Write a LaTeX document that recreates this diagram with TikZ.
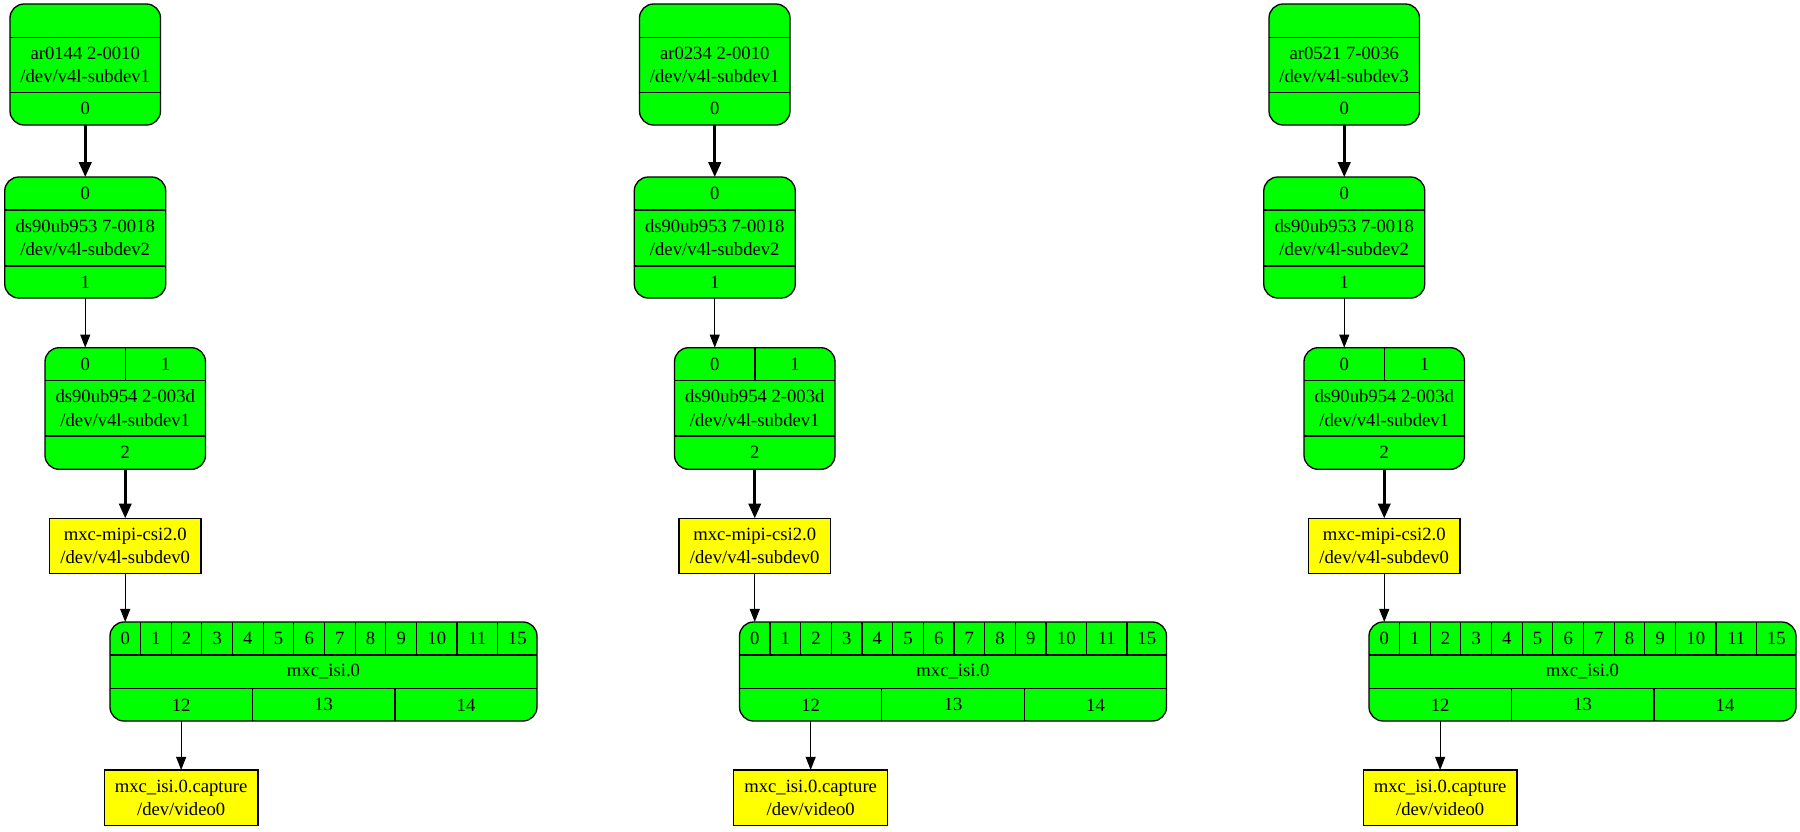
\documentclass[tikz,border=0pt]{standalone}
\usepackage{fontspec}
\setmainfont{Liberation Serif}
\usetikzlibrary{arrows.meta}
\definecolor{gvgreen}{HTML}{00FF00}
\definecolor{gvyellow}{HTML}{FFFF00}
\newcommand\gvfont{\fontsize{9.33pt}{11.6pt}\selectfont}
\tikzset{
  pxbox/.style 2 args={minimum width=#1*0.5pt, minimum height=#2*0.5pt},
  gbox/.style={draw=black, line width=0.65pt, fill=gvgreen, rounded corners=7pt, inner sep=0pt, outer sep=0pt},
  ybox/.style={draw=black, line width=0.65pt, fill=gvyellow, inner sep=0pt, outer sep=0pt, align=center, font=\gvfont},
  cell/.style={inner sep=0pt, outer sep=0pt, align=center, font=\gvfont},
  divider/.style={draw=black, line width=0.6pt},
  thinedge/.style={draw=black, line width=0.65pt, -{Triangle[length=6.6pt, width=5pt]}},
  thickedge/.style={draw=black, line width=1.33pt, -{Triangle[length=7.4pt, width=6.2pt]}},
}
\newcommand\gvcolumn[4]{%
\begin{scope}[shift={(#1,0)}]
  % sensor
  \node[gbox, pxbox={150.5}{121}] (#2A) at (85.25,64.5) {};
  \node[cell, pxbox={150.5}{55.4}] (#2At) at (85.25,65) {#3\\/dev/v4l-subdev#4};
  \node[cell, pxbox={150.5}{32.3}] (#2Ap) at (85.25,108.85) {0};
  \draw[divider] (#2At.north west) -- (#2At.north east) (#2At.south west) -- (#2At.south east);
  % ds90ub953
  \node[gbox, pxbox={161}{121}] (#2B) at (85.25,237.5) {};
  \node[cell, pxbox={161}{33}] (#2Bp) at (85.25,193.5) {0};
  \node[cell, pxbox={161}{56}] (#2Bt) at (85.25,238) {ds90ub953 7-0018\\/dev/v4l-subdev2};
  \node[cell, pxbox={161}{32}] (#2Bq) at (85.25,282) {1};
  \draw[divider] (#2Bt.north west) -- (#2Bt.north east) (#2Bt.south west) -- (#2Bt.south east);
  % ds90ub954
  \node[gbox, pxbox={160.5}{121.6}] (#2C) at (125.25,408.5) {};
  \node[cell, pxbox={80.5}{32.6}] (#2Cp) at (85.25,364) {0};
  \node[cell, pxbox={80}{32.6}] (#2Cq) at (165.5,364) {1};
  \node[cell, pxbox={160.5}{55.7}] (#2Ct) at (125.25,408.15) {ds90ub954 2-003d\\/dev/v4l-subdev1};
  \node[cell, pxbox={160.5}{33.3}] (#2Cr) at (125.25,452.65) {2};
  \draw[divider] (#2Ct.north west) -- (#2Ct.north east) (#2Ct.south west) -- (#2Ct.south east)
                 (#2Cp.north east) -- (#2Cp.south east);
  % mipi csi
  \node[ybox, pxbox={151.6}{55}] (#2D) at (125.25,545.8) {mxc-mipi-csi2.0\\/dev/v4l-subdev0};
  % isi
  \node[gbox, pxbox={427}{99}] (#2E) at (323.5,671.5) {};
  \node[cell, pxbox={30.5}{33}] (#2E0) at (125.25,638.5) {0};
  \draw[divider] (#2E0.north east) -- (#2E0.south east);
  \foreach \i in {1,...,9} {
    \node[cell, pxbox={30.67}{33}] (#2E\i) at ({125.165+30.67*\i},638.5) {\i};
    \draw[divider] (#2E\i.north east) -- (#2E\i.south east);
  }
  \node[cell, pxbox={40.5}{33}] (#2E10) at (436.75,638.5) {10};
  \node[cell, pxbox={40.5}{33}] (#2E11) at (477.25,638.5) {11};
  \node[cell, pxbox={39.5}{33}] (#2E15) at (517.25,638.5) {15};
  \draw[divider] (#2E10.north east) -- (#2E10.south east) (#2E11.north east) -- (#2E11.south east);
  \node[cell, pxbox={427}{33.7}] (#2Et) at (323.5,671.85) {mxc\_isi.0};
  \draw[divider] (#2Et.north west) -- (#2Et.north east) (#2Et.south west) -- (#2Et.south east);
  \node[cell, pxbox={142.3}{32.3}] (#2E12) at (181.15,704.85) {12};
  \node[cell, pxbox={142.7}{32.3}] (#2E13) at (323.65,704.85) {13};
  \node[cell, pxbox={142}{32.3}] (#2E14) at (466,704.85) {14};
  \draw[divider] (#2E12.north east) -- (#2E12.south east) (#2E13.north east) -- (#2E13.south east);
  % capture
  \node[ybox, pxbox={153.7}{55.5}] (#2F) at (181.15,797.75) {mxc\_isi.0.capture\\/dev/video0};
  % edges
  \draw[thickedge] (#2Ap) -- (#2Bp);
  \draw[thinedge] (#2Bq) -- (#2Cp);
  \draw[thickedge] (#2Cr) -- (#2D);
  \draw[thinedge] (#2D) -- (#2E0);
  \draw[thinedge] (#2E12) -- (#2F);
\end{scope}}
\begin{document}
\begin{tikzpicture}[x=0.5pt,y=-0.5pt]
  \useasboundingbox (0,0) rectangle (1800,831);
  \gvcolumn{0}{L}{ar0144 2-0010}{1}
  \gvcolumn{629.5}{M}{ar0234 2-0010}{1}
  \gvcolumn{1259}{R}{ar0521 7-0036}{3}
\end{tikzpicture}
\end{document}
